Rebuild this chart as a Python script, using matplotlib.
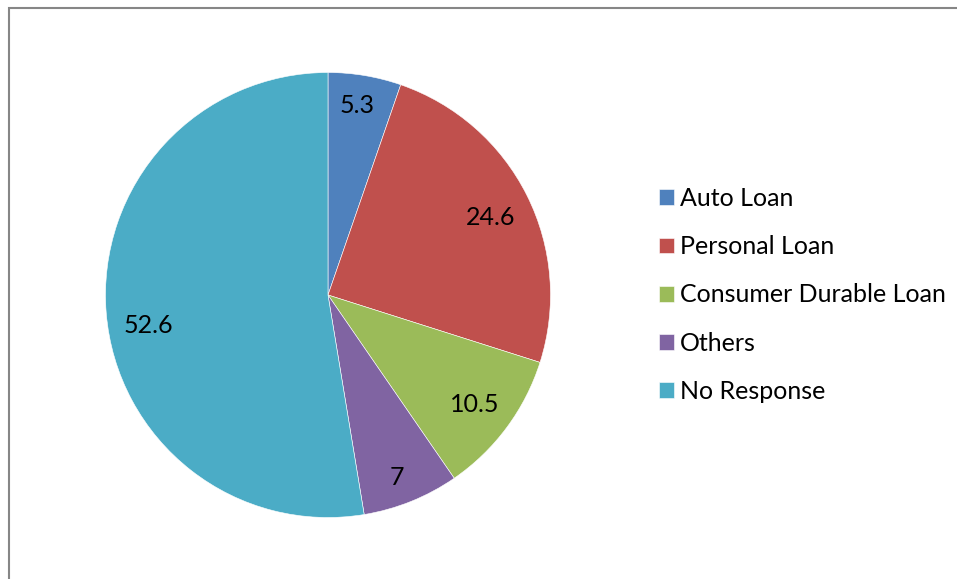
import numpy as np
import matplotlib.pyplot as plt
from matplotlib.patches import Rectangle

# -------------------
# DATA
# -------------------
categories = ["Auto Loan", "Personal Loan", "Consumer Durable Loan", "Others", "No Response"]
shares = [5.3, 24.6, 10.5, 7, 52.6]
share_labels = ["5.3", "24.6", "10.5", "7", "52.6"]
colors = ["#4F81BD", "#C0504D", "#9BBB59", "#8064A2", "#4BACC6"]

# label placement: distance from centre (fraction of radius) and
# a small angular nudge (degrees) away from the slice's mid angle
label_dist = [0.86, 0.81, 0.82, 0.877, 0.82]
label_nudge = [0.9, -1.1, -0.2, -1.3, 4.9]

plt.rcParams["font.family"] = ["Lato", "DejaVu Sans"]

W, H = 957, 579
fig = plt.figure(figsize=(W / 100, H / 100), dpi=100)

# -------------------
# PIE
# -------------------
cx, cy, r = 328, 295, 222.5
ax = fig.add_axes([(cx - r) / W, (H - cy - r) / H, 2 * r / W, 2 * r / H])
wedges, _ = ax.pie(
    shares,
    colors=colors,
    startangle=90,
    counterclock=False,
    radius=1,
    wedgeprops=dict(edgecolor="white", linewidth=0.4),
)
ax.set_xlim(-1, 1)
ax.set_ylim(-1, 1)
ax.set_aspect("equal")
ax.axis("off")

# value labels near each slice's mid angle
cum = np.cumsum([0] + shares[:-1])
for start, val, txt, d, nudge in zip(cum, shares, share_labels, label_dist, label_nudge):
    ang = np.deg2rad(90 - (start + val / 2) / sum(shares) * 360 + nudge)
    ax.text(d * np.cos(ang), d * np.sin(ang), txt, ha="center", va="center",
            fontsize=18, color="black")

# -------------------
# LEGEND
# -------------------
fig.legend(
    wedges,
    categories,
    loc="upper left",
    bbox_to_anchor=(659 / W, 1 - 187 / H),
    frameon=False,
    fontsize=18,
    handlelength=0.6,
    handleheight=0.6,
    handletextpad=0.22,
    labelspacing=1.01,
    borderaxespad=0,
    borderpad=0,
)

# chart frame (right and bottom edges run off the image)
fig.patches.append(Rectangle((8.5 / W, -0.1), 1.2, 1 - 7.5 / H + 0.1,
                             transform=fig.transFigure, fill=False,
                             edgecolor="#868686", linewidth=1.5))

fig.savefig("out.png", dpi=100)
